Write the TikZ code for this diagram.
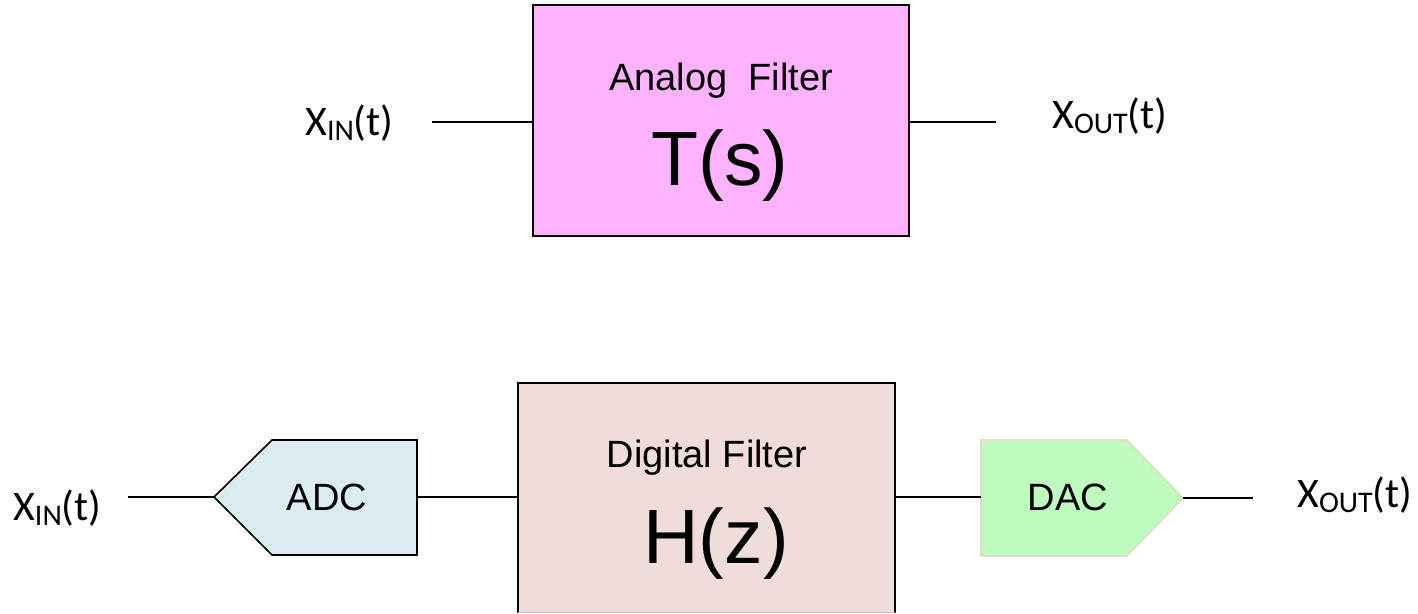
\documentclass[tikz,border=0pt]{standalone}
\usepackage{fontspec}
\setmainfont{Liberation Sans}
\newfontfamily\carl{Carlito}
\definecolor{analogpink}{HTML}{FFB3FF}
\definecolor{digitalrose}{HTML}{F0DCDA}
\definecolor{adcblue}{HTML}{DAECF2}
\definecolor{dacgreen}{HTML}{BFFBBF}
\definecolor{dacedge}{HTML}{DCDFC4}
\newcommand{\sigl}[1]{{\carl\fontsize{42}{50}\selectfont X\raisebox{-5pt}{\fontsize{30}{36}\selectfont #1}(t)}}
\begin{document}
\begin{tikzpicture}[x=1pt,y=-1pt,
  wire/.style={line width=1.6pt,black},
  lbl/.style={inner sep=0pt,anchor=base west},
  title/.style={inner sep=0pt,anchor=base,font=\fontsize{38}{45}\selectfont},
  big/.style={inner sep=0pt,anchor=base,font=\fontsize{77}{92}\selectfont}]
\useasboundingbox (0,0) rectangle (1418,613);
% top analog filter
\draw[line width=1.6pt,fill=analogpink] (533,5) rectangle (909,236);
\node[title] (at1) at (721,90) {Analog\ \ Filter};
\node[big] (ts) at (720,185) {T(s)};
\coordinate (aL) at (533,122);
\coordinate (aR) at (909,122);
\coordinate (tinE) at (432,122);
\coordinate (toutE) at (996,122);
\node[lbl] (xin1) at (305,135) {\sigl{IN}};
\node[lbl] (xout1) at (1052,128) {\sigl{OUT}};
\draw[wire] (tinE) -- (aL);
\draw[wire] (aR) -- (toutE);
% bottom digital filter
\fill[digitalrose] (518,383) rectangle (895,613);
\draw[line width=1.6pt] (518,613) -- (518,383) -- (895,383) -- (895,613);
\draw[line width=1pt,color=digitalrose!70!gray] (518,612.5) -- (895,612.5);
\node[title] (dt) at (707,467) {Digital Filter};
\node[big] (hz) at (716,563) {H(z)};
% ADC
\draw[line width=1.6pt,fill=adcblue] (214,497) -- (272,440) -- (417,440) -- (417,555) -- (272,555) -- cycle;
\node[title] (adc) at (327,510) {ADC};
% DAC
\draw[line width=1.6pt,draw=dacedge,fill=dacgreen] (981,440) -- (1127,440) -- (1183,498) -- (1127,556) -- (981,556) -- cycle;
\node[title] (dac) at (1068,510) {DAC};
\coordinate (adcTip) at (214,497);
\coordinate (adcR) at (417,497);
\coordinate (dL) at (518,497);
\coordinate (dR) at (895,497);
\coordinate (dacL) at (981,497);
\coordinate (dacTip) at (1183,498);
\coordinate (binE) at (128,497);
\coordinate (boutE) at (1253,498);
\node[lbl] (xin2) at (13,520) {\sigl{IN}};
\node[lbl] (xout2) at (1297,507) {\sigl{OUT}};
\draw[wire] (binE) -- (adcTip);
\draw[wire] (adcR) -- (dL);
\draw[wire] (dR) -- (dacL);
\draw[wire] (dacTip) -- (boutE);
\end{tikzpicture}
\end{document}
